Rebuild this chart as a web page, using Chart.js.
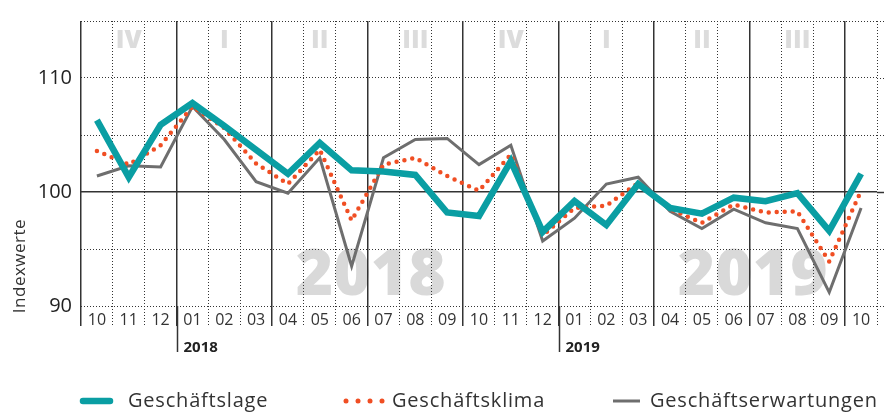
<!DOCTYPE html>
<html>
<head>
<meta charset="utf-8">
<script src="https://cdn.jsdelivr.net/npm/chart.js@4.4.1/dist/chart.umd.min.js"></script>
<style>
  html, body { margin: 0; padding: 0; background: #fff; }
  #wrap { width: 884px; height: 412px; }
</style>
</head>
<body>
<div id="wrap"><canvas id="myChart" width="884" height="412"></canvas></div>
<script>
// monthly values Oct 2017 - Oct 2019
const months = ['10', '11', '12', '01', '02', '03', '04', '05', '06', '07', '08', '09',
                '10', '11', '12', '01', '02', '03', '04', '05', '06', '07', '08', '09', '10'];
const lage =   [106.3, 101.3, 105.9, 107.8, 105.8, 103.7, 101.6, 104.3, 101.9, 101.8, 101.5, 98.2,
                97.9, 102.7, 96.5, 99.2, 97.1, 100.7, 98.6, 98.1, 99.5, 99.2, 99.9, 96.6, 101.6];
const klima =  [103.6, 102.4, 104.1, 107.5, 105.6, 102.5, 100.7, 103.7, 97.5, 102.4, 103.0, 101.4,
                100.1, 103.3, 96.2, 98.6, 98.8, 100.8, 98.5, 97.3, 98.9, 98.2, 98.3, 93.9, 100.1];
const erwart = [101.4, 102.3, 102.2, 107.5, 104.6, 100.9, 99.9, 103.0, 93.5, 103.0, 104.6, 104.7,
                102.4, 104.1, 95.7, 97.7, 100.7, 101.3, 98.3, 96.8, 98.5, 97.3, 96.8, 91.2, 98.6];
const yTickLabels = [90, 100, 110];
const quarterLabels = ['IV', 'I', 'II', 'III', 'IV', 'I', 'II', 'III'];
const yearLabels = ['2018', '2019'];
const yearStart = [3, 15];

const teal = '#0a9ea3';
const orange = '#f04e23';
const gray = '#6e6e6e';
const font = '"Open Sans", Lato, sans-serif';

const decorPlugin = {
    id: 'decor',
    beforeDraw(chart) {
        const {ctx, chartArea, scales: {x, y}} = chart;
        ctx.save();
        // big year watermarks
        ctx.fillStyle = '#d9d9d9';
        ctx.font = '800 64px ' + font;
        ctx.textAlign = 'center';
        ctx.textBaseline = 'alphabetic';
        const wmPos = [8.6, 20.6];
        yearLabels.forEach((t, i) => ctx.fillText(t, x.getPixelForValue(wmPos[i]), y.getPixelForValue(91)));
        // quarter labels
        ctx.fillStyle = '#dcdcdc';
        ctx.font = '800 25px ' + font;
        quarterLabels.forEach((q, i) => ctx.fillText(q, x.getPixelForValue(1 + i * 3), chartArea.top + 27));
        ctx.restore();
    },
    afterDraw(chart) {
        const {ctx, chartArea, scales: {x, y}} = chart;
        ctx.save();
        // horizontal grid continues to the edge
        ctx.strokeStyle = '#333';
        [90, 95, 100, 105, 110, 115].forEach(v => {
            const py = Math.round(y.getPixelForValue(v)) + 0.5;
            ctx.lineWidth = v === 100 ? 1.5 : 1;
            ctx.setLineDash(v === 100 ? [] : [1, 2]);
            ctx.beginPath();
            ctx.moveTo(chartArea.right, py);
            ctx.lineTo(chart.width, py);
            ctx.stroke();
        });
        ctx.setLineDash([]);
        // year separators and labels
        ctx.lineWidth = 1.5;
        ctx.fillStyle = '#222';
        ctx.font = 'bold 15px ' + font;
        ctx.textAlign = 'left';
        ctx.textBaseline = 'alphabetic';
        yearStart.forEach((idx, i) => {
            const px = Math.round(x.getPixelForValue(idx - 0.5)) + 0.5;
            ctx.beginPath();
            ctx.moveTo(px, chartArea.bottom);
            ctx.lineTo(px, chartArea.bottom + 46);
            ctx.stroke();
            ctx.fillText(yearLabels[i], px + 6, chartArea.bottom + 46);
        });
        // y axis title
        ctx.save();
        ctx.translate(20, 266);
        ctx.rotate(-Math.PI / 2);
        ctx.textAlign = 'center';
        ctx.textBaseline = 'middle';
        ctx.fillStyle = '#333';
        ctx.font = '17px ' + font;
        ctx.letterSpacing = '0.5px';
        ctx.fillText('Indexwerte', 0, 0);
        ctx.restore();
        // legend
        const ly = 401;
        const ds = chart.data.datasets;
        ctx.lineCap = 'round';
        ctx.strokeStyle = ds[0].borderColor;
        ctx.lineWidth = 6.5;
        ctx.beginPath(); ctx.moveTo(83, ly); ctx.lineTo(110, ly); ctx.stroke();
        ctx.fillStyle = ds[1].borderColor;
        [346, 358, 370, 382].forEach(dx => {
            ctx.beginPath(); ctx.arc(dx, ly, 2.5, 0, Math.PI * 2); ctx.fill();
        });
        ctx.lineCap = 'butt';
        ctx.strokeStyle = ds[2].borderColor;
        ctx.lineWidth = 3;
        ctx.beginPath(); ctx.moveTo(613, ly); ctx.lineTo(640, ly); ctx.stroke();
        ctx.fillStyle = '#333';
        ctx.font = '20px ' + font;
        ctx.letterSpacing = '0.8px';
        ctx.textAlign = 'left';
        ctx.textBaseline = 'middle';
        ctx.fillText(ds[0].label, 128, ly);
        ctx.fillText(ds[1].label, 392, ly);
        ctx.fillText(ds[2].label, 650, ly);
        ctx.restore();
    }
};

const chart = new Chart(document.getElementById('myChart').getContext('2d'), {
    type: 'line',
    data: {
        labels: months,
        datasets: [{
            label: 'Geschäftslage',
            data: lage,
            borderColor: teal,
            borderWidth: 6.5,
            borderJoinStyle: 'miter',
            pointRadius: 0,
            tension: 0
        }, {
            label: 'Geschäftsklima',
            data: klima,
            borderColor: orange,
            borderWidth: 4.5,
            borderDash: [0, 8],
            borderCapStyle: 'round',
            borderJoinStyle: 'round',
            pointRadius: 0,
            tension: 0
        }, {
            label: 'Geschäftserwartungen',
            data: erwart,
            borderColor: gray,
            borderWidth: 3,
            borderJoinStyle: 'miter',
            pointRadius: 0,
            tension: 0
        }]
    },
    options: {
        responsive: false,
        animation: false,
        layout: { padding: { top: 18, right: 7, left: 0, bottom: 0 } },
        plugins: {
            legend: { display: false },
            tooltip: { enabled: false }
        },
        scales: {
            x: {
                offset: true,
                afterFit: scale => { scale.height = 106; },
                grid: {
                    offset: true,
                    color: '#333',
                    lineWidth: ctx => ctx.index % 3 === 0 ? 1.5 : 1,
                    tickColor: '#333',
                    tickWidth: ctx => ctx.index % 3 === 0 ? 1.5 : 1,
                    tickLength: 20,
                    tickBorderDash: ctx => ctx.index % 3 === 0 ? [] : [1, 2]
                },
                border: {
                    display: false,
                    dash: ctx => ctx.index % 3 === 0 ? [] : [1, 2]
                },
                ticks: {
                    autoSkip: false,
                    maxRotation: 0,
                    padding: -15,
                    color: '#333',
                    font: { family: font, size: 16 }
                }
            },
            y: {
                min: 90,
                max: 115,
                afterFit: scale => { scale.width = 81; },
                grid: {
                    color: '#333',
                    lineWidth: ctx => ctx.tick && ctx.tick.value === 100 ? 1.5 : 1,
                    drawTicks: false
                },
                border: {
                    display: false,
                    dash: ctx => ctx.tick && ctx.tick.value === 100 ? [] : [1, 2]
                },
                ticks: {
                    stepSize: 5,
                    padding: 9,
                    color: '#222',
                    font: { family: font, size: 20 },
                    callback: v => yTickLabels.includes(v) ? String(v) : ''
                }
            }
        }
    },
    plugins: [decorPlugin]
});
</script>
</body>
</html>
